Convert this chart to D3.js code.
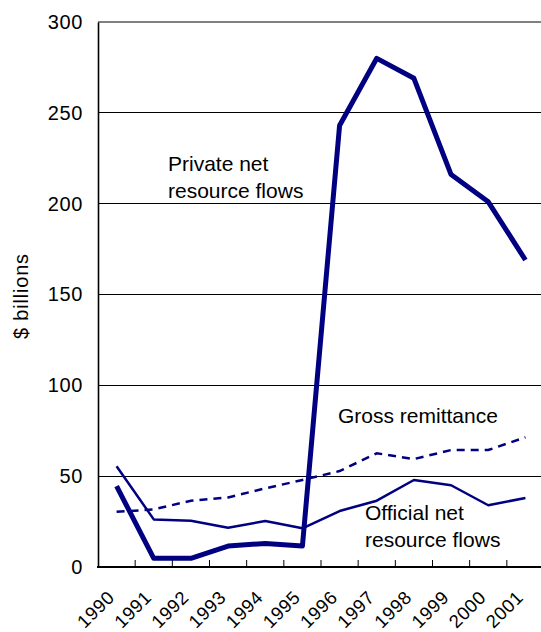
<!DOCTYPE html>
<html>
<head>
<meta charset="utf-8">
<script src="https://cdn.jsdelivr.net/npm/d3@7/dist/d3.min.js"></script>
<style>
  html, body { margin: 0; padding: 0; background: #fff; }
  svg { display: block; font-family: "Liberation Sans", Arial, sans-serif; }
</style>
</head>
<body>
<svg id="chart" width="541" height="632"></svg>
<script>
const years = ["1990","1991","1992","1993","1994","1995","1996","1997","1998","1999","2000","2001"];
const privateFlows = [44.5, 4.8, 4.8, 11.5, 13, 11.5, 243, 280, 269, 216, 201, 169];
const officialFlows = [55.5, 26.2, 25.5, 21.6, 25.3, 21.3, 30.8, 36.5, 47.9, 45, 34, 38];
const remittance = [30.4, 31.7, 36.5, 38.3, 43.3, 47.9, 52.8, 62.6, 59.4, 64.4, 64.4, 71.4];
const yTicks = [0, 50, 100, 150, 200, 250, 300];

(function () {
const svg = d3.select("#chart");
const mLeft = 98, mTop = 22, mBottom = 567, mRight = 544;
const navy = "#000080";

const x = d3.scaleBand().domain(years).range([mLeft, mRight]).padding(0);
const y = d3.scaleLinear().domain([0, 300]).range([mBottom, mTop]);

// gridlines
svg.append("g").selectAll("line")
  .data(yTicks.filter(d => d > 0 && d < 300))
  .join("line")
  .attr("x1", mLeft).attr("x2", 541)
  .attr("y1", d => y(d)).attr("y2", d => y(d))
  .attr("stroke", "#000").attr("stroke-width", 1)
  .attr("shape-rendering", "crispEdges");

// top line (300)
svg.append("line")
  .attr("x1", mLeft).attr("x2", 541)
  .attr("y1", y(300)).attr("y2", y(300))
  .attr("stroke", "#808080").attr("stroke-width", 2);

// Y axis
const yAxis = d3.axisLeft(y).tickValues(yTicks).tickSize(0).tickPadding(15);
const gy = svg.append("g").attr("transform", `translate(${mLeft},0)`).call(yAxis);
gy.select(".domain").attr("stroke", "#000").attr("stroke-width", 1.6);
gy.selectAll("text")
  .attr("font-size", 20).attr("fill", "#000")
  .attr("font-family", "'Liberation Sans', Arial, sans-serif")
  .attr("letter-spacing", 0.6);

// X axis: ticks at band boundaries, pointing upward
const boundaries = years.slice(1).map(d => x(d));
svg.append("g").selectAll("line")
  .data(boundaries).join("line")
  .attr("x1", d => d).attr("x2", d => d)
  .attr("y1", mBottom).attr("y2", mBottom - 7)
  .attr("stroke", "#000").attr("stroke-width", 1);
svg.append("line")
  .attr("x1", mLeft - 1).attr("x2", 541)
  .attr("y1", mBottom).attr("y2", mBottom)
  .attr("stroke", "#000").attr("stroke-width", 2);

svg.append("g").selectAll("text")
  .data(years).join("text")
  .attr("transform", d => `translate(${x(d) + x.bandwidth() / 2 - 1},598.5) rotate(-45)`)
  .attr("text-anchor", "end")
  .attr("font-size", 18.5)
  .attr("letter-spacing", 0.6)
  .attr("fill", "#000")
  .text(d => d);

// Y axis title
svg.append("text")
  .attr("transform", "translate(28,296) rotate(-90)")
  .attr("text-anchor", "middle")
  .attr("font-size", 20)
  .attr("letter-spacing", 0.8)
  .attr("fill", "#000")
  .text("$ billions");

// lines
const cx = d => x(d) + x.bandwidth() / 2;
const mk = vals => d3.line().x((v, i) => cx(years[i])).y(v => y(v))(vals);

svg.append("path").attr("d", mk(remittance))
  .attr("fill", "none").attr("stroke", navy).attr("stroke-width", 2.5)
  .attr("stroke-dasharray", "8,6");
svg.append("path").attr("d", mk(officialFlows))
  .attr("fill", "none").attr("stroke", navy).attr("stroke-width", 2.5)
  .attr("stroke-linejoin", "round");
svg.append("path").attr("d", mk(privateFlows))
  .attr("fill", "none").attr("stroke", navy).attr("stroke-width", 5)
  .attr("stroke-linejoin", "round");

// annotations
const ann = [
  {t: "Private net", x: 168, y: 171},
  {t: "resource flows", x: 168, y: 198},
  {t: "Gross remittance", x: 338, y: 423},
  {t: "Official net", x: 365, y: 520},
  {t: "resource flows", x: 365, y: 547}
];
svg.append("g").selectAll("text")
  .data(ann).join("text")
  .attr("x", d => d.x).attr("y", d => d.y)
  .attr("font-size", 21).attr("fill", "#000")
  .text(d => d.t);
})();
</script>
</body>
</html>
